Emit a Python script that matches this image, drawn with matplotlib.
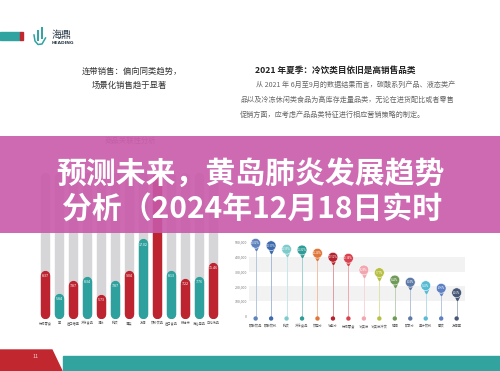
import matplotlib.pyplot as plt
from matplotlib.patches import Rectangle, Polygon
from matplotlib.colors import to_rgb
import matplotlib.transforms as mtrans

plt.rcParams['font.family'] = ['Noto Sans CJK SC', 'DejaVu Sans']

W, H = 500, 371

# left chart: category association (capsule bars)
bar_cats = ["休闲零食", "面", "进口糖果", "冷冻食品", "调味", "乳饮", "酒类",
            "方便", "饮料饮品", "进口食品", "粮油米", "洗浴用品", "日化纸品"]
bar_values = [9.9, 5.2, 8.0, 8.8, 5.0, 8.0, 9.9, 16.4, 30.0, 9.9, 8.4, 8.8, 11.6]
bar_text = ["8.37", "5.84", "7.87", "8.34", "5.73", "7.87", "9.04", "17.02", "",
            "8.13", "7.22", "7.76", "11.46"]
bar_kind = ["r", "t", "r", "t", "r", "t", "r", "t", "r", "t", "r", "t", "r"]
bar_max = 30.0

# right chart: summer cold drinks (pins)
pin_cats = ["碳酸饮品", "碳酸饮料", "乳饮", "冷冻食品", "饮用水", "功能水", "休闲零食",
            "冰淇淋", "冰淇淋冷饮", "啤酒", "矿泉水", "果汁饮料", "茶饮", "方便面"]
pin_values = [491000, 475000, 451000, 446000, 424000, 397000, 390000,
              311000, 293000, 243000, 228000, 205000, 187000, 157000]
pin_pct = ["13.02%", "12.59%", "11.95%", "11.82%", "11.24%", "10.52%", "10.34%",
           "8.24%", "7.77%", "6.44%", "6.04%", "5.43%", "4.96%", "4.16%"]
pin_colors = ["#5E82BD", "#3E6AAE", "#7ECBCB", "#2E9D98", "#E0763A", "#B5222E", "#D8414D",
              "#F2A7B0", "#B8C044", "#6F9A58", "#5D79A6", "#56BCD3", "#5C80C2", "#475876"]
pin_ticks = [0, 100000, 200000, 300000, 400000, 500000]

RED = "#BE2430"
TEAL = "#2EA19E"
GRAY = "#D6D6D8"

fig = plt.figure(figsize=(W / 100, H / 100), dpi=100)
fig.patch.set_facecolor("white")


def px_axes(l, t, r, b, z=1):
    a = fig.add_axes([l / W, 1 - b / H, (r - l) / W, (b - t) / H], zorder=z)
    return a


# ---- slide background / header / footer
bg = px_axes(0, 0, W, H, z=0)
bg.set_xlim(0, W)
bg.set_ylim(H, 0)
bg.axis("off")

bg.add_patch(Rectangle((0, 32), 20, 8, color="#2FA3A0"))
bg.add_patch(Rectangle((20, 32), 3.3, 8, color="#C0272F"))
# logo
bg.plot([38, 38], [30, 41], color="#2FA3A0", lw=1.4, solid_capstyle="butt")
bg.plot([41.5, 41.5], [27, 39], color="#2FA3A0", lw=1.4, solid_capstyle="butt")
bg.plot([34, 35, 38, 42, 45.5], [35, 41, 44.5, 44, 38], color="#2FA3A0", lw=1.1)
bg.text(52, 34.5, "海鼎", fontsize=7.2, color="#2B3A4A", va="center", ha="left")
bg.text(52, 43.5, "HEADING", fontsize=3.2, color="#2B3A4A", va="center", ha="left",
        family="DejaVu Sans", weight="bold")

bg.text(132, 71.5, "连带销售：偏向同类趋势，", fontsize=6, color="#333333", ha="center", va="center")
bg.text(129, 85, "场景化销售趋于显著", fontsize=6, color="#333333", ha="center", va="center")

bg.text(255, 70.5, "2021 年夏季：冷饮类目依旧是高销售品类", fontsize=6.2, color="#222222",
        ha="left", va="center", weight="bold")
bg.text(256.5, 85, "从 2021 年 6月至9月的数据结果而言，碳酸系列产品、液态类产",
        fontsize=5.1, color="#666666", ha="left", va="center")
bg.text(240, 100, "品以及冷冻休闲类食品为高库存走量品类，无论在进货配比或者零售",
        fontsize=5.1, color="#666666", ha="left", va="center")
bg.text(240, 115, "促销方面，应考虑产品品类特征进行相应营销策略的制定。",
        fontsize=5.1, color="#666666", ha="left", va="center")

bg.text(130, 141, "商品关联性分析", fontsize=5.3, color="#888888", ha="center", va="center")

bg.add_patch(Polygon([(0, 350), (52, 350), (62, 371), (0, 371)], color="#C0272F"))
bg.text(36, 356.5, "11", fontsize=4, color="#F6CACA", ha="center", va="center")
bg.add_patch(Rectangle((63, 356), W - 63, 15, color="#33A3A0"))

# ---- left chart
L_TOP, L_BOT = 165, 319
ax1 = px_axes(36, L_TOP, 222, L_BOT, z=2)
ymax1 = 31.43
ax1.set_ylim(0, ymax1)
ax1.set_xlim(-0.64, 12.62)
ppu = (L_BOT - L_TOP) / ymax1
r_d = 4.7 / ppu
lw = 9.4 * 0.72
for i, v in enumerate(bar_values):
    ax1.plot([i, i], [r_d, bar_max - r_d], color=GRAY, lw=lw, solid_capstyle="round", zorder=1)
    c = RED if bar_kind[i] == "r" else TEAL
    ax1.plot([i, i], [r_d, v - r_d], color=c, lw=lw, solid_capstyle="round", zorder=2)
    ax1.annotate(bar_text[i], (i, v), xytext=(0, -4.3), textcoords="offset points",
                 ha="center", va="center", fontsize=2.6, color="white", zorder=3)
ax1.set_xticks(range(len(bar_cats)))
ax1.set_xticklabels(bar_cats, fontsize=2.3, color="#555555")
ax1.tick_params(axis="x", length=0, pad=1.5)
ax1.set_yticks([])
for s in ax1.spines.values():
    s.set_visible(False)
ax1.patch.set_alpha(0)

# ---- right chart
R_TOP, R_BOT = 235, 322
ax2 = px_axes(249, R_TOP, 465, R_BOT, z=2)
y0_px, y500_px = 316, 242
per_px = 500000 / (y0_px - y500_px)
ax2.set_ylim(-(R_BOT - y0_px) * per_px, (y0_px - R_TOP) * per_px)
ax2.set_xlim(-0.43, 13.54)
ax2.axhspan(100000, 200000, color="#F2F2F3", zorder=0, lw=0)
ax2.axhspan(300000, 400000, color="#F2F2F3", zorder=0, lw=0)
base = -2.5 * per_px
xs = list(range(len(pin_values)))


def lighten(c, f=0.55):
    r, g, b = to_rgb(c)
    return (r + (1 - r) * f, g + (1 - g) * f, b + (1 - b) * f)


for i, v in enumerate(pin_values):
    ax2.plot([i, i], [base, v], color=lighten(pin_colors[i]), lw=0.7, zorder=1)
ax2.scatter(xs, [base] * len(xs), s=10, color=pin_colors, zorder=3, lw=0)
tip = mtrans.offset_copy(ax2.transData, fig=fig, y=-3.6, units="points")
for i, v in enumerate(pin_values):
    ax2.plot([i], [v], marker="v", ms=3.2, color=pin_colors[i], transform=tip, zorder=3, lw=0)
ax2.scatter(xs, pin_values, s=50, color=pin_colors, edgecolor="white", lw=0.4, zorder=4)
for i, v in enumerate(pin_values):
    ax2.text(i, v, pin_pct[i], fontsize=1.8, color="white", ha="center", va="center", zorder=5)

ax2.set_yticks(pin_ticks)
ax2.set_yticklabels([f"{t:,}" for t in pin_ticks], fontsize=2.6, color="#777777")
ax2.set_xticks(xs)
ax2.set_xticklabels(pin_cats, fontsize=2.4, color="#555555")
ax2.tick_params(length=0, pad=1.5)
for s in ax2.spines.values():
    s.set_visible(False)
ax2.patch.set_alpha(0)

# ---- banner overlay
top = px_axes(0, 0, W, H, z=10)
top.set_xlim(0, W)
top.set_ylim(H, 0)
top.axis("off")
top.patch.set_alpha(0)
top.add_patch(Rectangle((0, 136), W, 97, color="#C85AAA", alpha=0.9, lw=0))
top.text(250, 174, "预测未来，黄岛肺炎发展趋势", fontsize=21.5, weight="bold",
         color="white", ha="center", va="center")
top.text(252, 210, "分析（2024年12月18日实时", fontsize=21.5, weight="bold",
         color="white", ha="center", va="center")

fig.savefig("out.png", dpi=100)
